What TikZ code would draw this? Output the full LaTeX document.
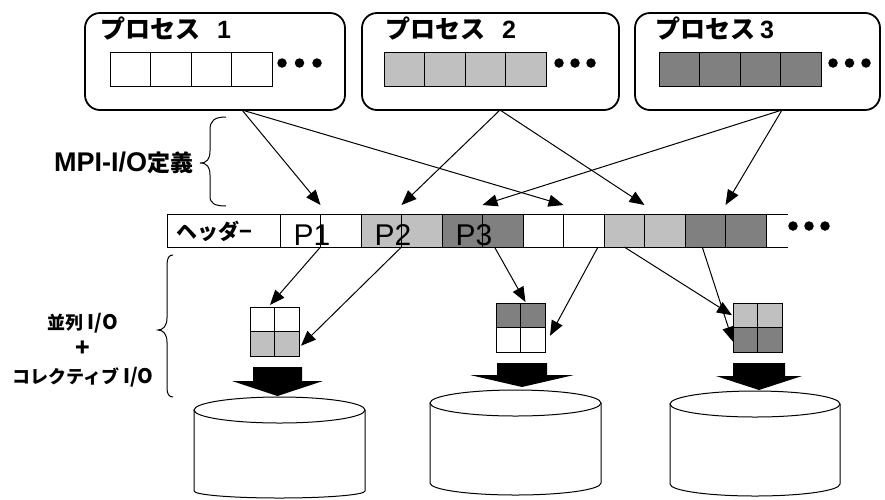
\documentclass[tikz,border=0pt]{standalone}
\usepackage{fontspec}
\setmainfont{Liberation Sans}
\newfontfamily\jp{Noto Sans CJK JP}
\usetikzlibrary{arrows.meta,calc}

\definecolor{lgray}{HTML}{C0C0C0}
\definecolor{dgray}{HTML}{808080}

\begin{document}
\begin{tikzpicture}[x=1pt,y=-1pt,
  procbox/.style={draw, line width=1.8pt, rounded corners=15pt, inner sep=0pt, minimum height=97pt},
  cell/.style={draw, line width=0.9pt, minimum width=40.5pt, minimum height=34pt, inner sep=0pt, outer sep=0pt},
  scell/.style={draw, line width=1pt, minimum width=40.5pt, minimum height=33pt, inner sep=0pt, outer sep=0pt},
  gcell/.style={draw, line width=1pt, minimum width=24.5pt, minimum height=24.5pt, inner sep=0pt, outer sep=0pt},
  flow/.style={line width=1pt, -{Triangle[length=15pt,width=12pt]}},
  dot/.style={circle, fill=black, minimum size=9.5pt, inner sep=0pt},
  title/.style={anchor=base west, inner sep=0pt},
  plabel/.style={anchor=base, inner sep=0pt, font=\fontsize{30}{30}\selectfont},
  disk/.style={draw, line width=1pt, fill=white},
  bracket/.style={line width=1pt},
]
\useasboundingbox (0,0) rectangle (885,499);

% ---- process boxes ----
\node[procbox, minimum width=260pt] (pb1) at (215,61.5) {};
\node[procbox, minimum width=257pt] (pb2) at (490.5,61.5) {};
\node[procbox, minimum width=245pt] (pb3) at (757.5,61.5) {};

\node[title] (t1) at (100,38) {{\jp\bfseries\fontsize{25}{25}\selectfont プロセス}\hspace{17pt}{\bfseries\fontsize{25}{25}\selectfont 1}};
\node[title] (t2) at (385,38) {{\jp\bfseries\fontsize{25}{25}\selectfont プロセス}\hspace{17pt}{\bfseries\fontsize{25}{25}\selectfont 2}};
\node[title] (t3) at (655,38) {{\jp\bfseries\fontsize{25}{25}\selectfont プロセス}\hspace{5pt}{\bfseries\fontsize{25}{25}\selectfont 3}};

\foreach \i in {1,...,4} {
  \node[cell] (a\i) at ({110+40.5*(\i-0.5)},69) {};
  \node[cell, fill=lgray] (b\i) at ({384+40.5*(\i-0.5)},69) {};
  \node[cell, fill=dgray] (c\i) at ({659+40.5*(\i-0.5)},69) {};
}
\foreach \k/\x in {1/282,2/299.5,3/317} \node[dot] (da\k) at (\x,63) {};
\foreach \k/\x in {1/559,2/575,3/591} \node[dot] (db\k) at (\x,63) {};
\foreach \k/\x in {1/833,2/849.5,3/866} \node[dot] (dc\k) at (\x,63) {};

% ---- file view strip ----
\node[scell, minimum width=113pt] (hd) at (223.5,230.5) {};
\node[inner sep=0pt, font=\jp\bfseries\fontsize{21}{21}\selectfont] (hdt) at ($(hd.center)+(-9,1)$) {ヘッダ−};
\foreach \i/\f in {1/white,2/white,3/lgray,4/lgray,5/dgray,6/dgray,7/white,8/white,9/lgray,10/lgray,11/dgray,12/dgray}
  \node[scell, fill=\f] (s\i) at ({280+40.5*(\i-0.5)},230.5) {};
\coordinate (endt) at ($(s12.north east)+(22,0)$);
\coordinate (endb) at ($(s12.south east)+(22,0)$);
\draw[line width=1pt] (s12.north east) -- (endt) (s12.south east) -- (endb);
\foreach \k/\x in {1/793,2/809,3/825} \node[dot] (ds\k) at (\x,226) {};

\node[plabel] (l1) at ($(s1.south east)+(-8.5,-2)$) {P1};
\node[plabel] (l2) at ($(s3.south east)+(-8.5,-2)$) {P2};
\node[plabel] (l3) at ($(s5.south east)+(-8.5,-2)$) {P3};

% ---- process data to file view ----
\coordinate (o1) at (242,110);
\coordinate (o2) at (500,110);
\coordinate (o3) at (782,110);
\draw[flow] (o1) -- ($(s1.north east)+(0,-9)$);
\draw[flow] (o1) -- ($(s7.north east)+(0,-9)$);
\draw[flow] (o2) -- ($(s3.north east)+(0,-9)$);
\draw[flow] (o2) -- ($(s9.north east)+(0,-9)$);
\draw[flow] (o3) -- ($(s5.north east)+(0,-9)$);
\draw[flow] (o3) -- ($(s11.north east)+(0,-9)$);

% ---- collective buffers ----
\node[gcell] (g1a) at (262.25,319.25) {};
\node[gcell] (g1b) at (286.75,319.25) {};
\node[gcell, fill=lgray] (g1c) at (262.25,343.75) {};
\node[gcell, fill=lgray] (g1d) at (286.75,343.75) {};

\node[gcell, fill=dgray] (g2a) at (508.25,315.25) {};
\node[gcell, fill=dgray] (g2b) at (532.75,315.25) {};
\node[gcell] (g2c) at (508.25,339.75) {};
\node[gcell] (g2d) at (532.75,339.75) {};

\node[gcell, fill=lgray] (g3a) at (745.25,315.25) {};
\node[gcell, fill=lgray] (g3b) at (769.75,315.25) {};
\node[gcell, fill=dgray] (g3c) at (745.25,339.75) {};
\node[gcell, fill=dgray] (g3d) at (769.75,339.75) {};

% ---- file view to buffers ----
\draw[flow] (s1.south east) -- ($(g1a.north east)+(-4.5,-2)$);
\draw[flow] (s3.south east) -- ($(g1d.east)+(2,2)$);
\draw[flow] ($(s6.south west)+(12,0)$) -- ($(g2b.north west)+(5,-1)$);
\draw[flow] ($(s8.south east)+(-6,0)$) -- ($(g2d.east)+(5,-4)$);
\draw[flow] (s9.south) -- ($(g3a.west)+(-1,0)$);
\draw[flow] ($(s11.south)+(-3,0)$) -- ($(g3c.west)+(0,2)$);

% ---- disks ----
\draw[disk] (194,410) -- (194,491) arc[start angle=180, end angle=360, x radius=85.5pt, y radius=7pt] -- (365,410);
\draw[disk] (279.5,410) ellipse [x radius=85.5pt, y radius=13pt];
\draw[disk] (430,403) -- (430,483) arc[start angle=180, end angle=360, x radius=85.5pt, y radius=12pt] -- (601,403);
\draw[disk] (515.5,403) ellipse [x radius=85.5pt, y radius=13pt];
\draw[disk] (670,404) -- (670,484) arc[start angle=180, end angle=360, x radius=85pt, y radius=12pt] -- (840,404);
\draw[disk] (755,404) ellipse [x radius=85pt, y radius=13pt];

% ---- block arrows onto the disks ----
\fill (253,367) -- (302,367) -- (302,381) -- (323,381) -- (277.5,396) -- (232,381) -- (253,381) -- cycle;
\fill (497,363) -- (547,363) -- (547,375) -- (574,375) -- (522,387) -- (470,375) -- (497,375) -- cycle;
\fill (733,363) -- (785,363) -- (785,376) -- (802,376) -- (759,390) -- (716,376) -- (733,376) -- cycle;

% ---- braces and side labels ----
\draw[bracket] (226,117) .. controls (214,117) and (210,121) .. (210,130) -- (210,151)
  .. controls (210,159) and (207,163) .. (200,163)
  .. controls (207,163) and (210,167) .. (210,175) -- (210,196)
  .. controls (210,203) and (214,206) .. (226,206);
\node[anchor=west, inner sep=0pt] (mpi) at (54,163)
  {{\bfseries\fontsize{27}{27}\selectfont MPI-I/O}{\jp\bfseries\fontsize{23}{23}\selectfont 定義}};

\draw[bracket] (173,255) .. controls (169,255) and (167,258) .. (167,265) -- (167,318)
  .. controls (167,326) and (163,330) .. (158,330)
  .. controls (163,330) and (167,334) .. (167,342) -- (167,388)
  .. controls (167,394) and (169,397) .. (173,397);
\node[align=center, inner sep=0pt, font=\jp\bfseries\fontsize{18}{27}\selectfont] (pio) at (83,350)
  {並列\hspace{4pt}{\fontsize{20}{27}\selectfont I/O}\\
   {\fontsize{24}{27}\selectfont +}\\
   コレクティブ\hspace{4pt}{\fontsize{20}{27}\selectfont I/O}};
\end{tikzpicture}
\end{document}
